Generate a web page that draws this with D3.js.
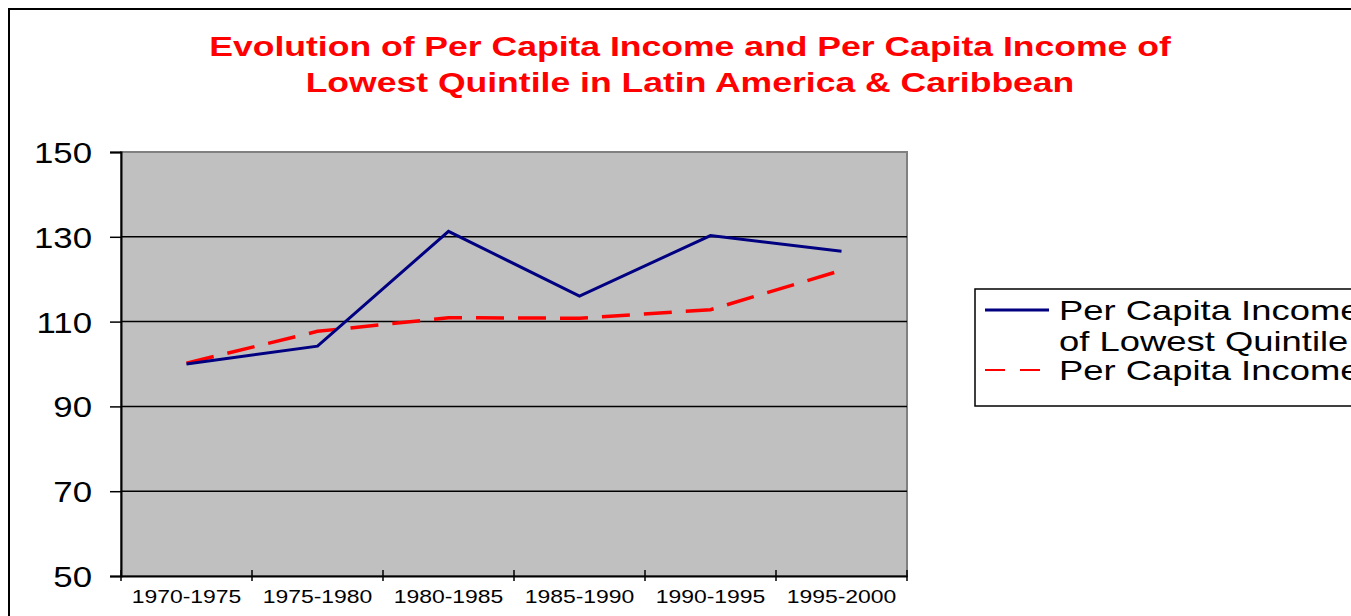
<!DOCTYPE html>
<html>
<head>
<meta charset="utf-8">
<script src="https://cdn.jsdelivr.net/npm/d3@7"></script>
<style>
  html, body { margin: 0; padding: 0; background: #fff; }
  svg { display: block; font-family: Arial, "Liberation Sans", sans-serif; }
</style>
</head>
<body>
<svg id="chart" width="1351" height="616"></svg>
<script>
const categories = ["1970-1975", "1975-1980", "1980-1985", "1985-1990", "1990-1995", "1995-2000"];
const lowestQuintile = [100.0, 104.2, 131.3, 116.0, 130.3, 126.6];
const perCapita = [100.2, 107.7, 110.9, 110.8, 112.8, 122.1];
const yTicks = [50, 70, 90, 110, 130, 150];
const titleLines = ["Evolution of Per Capita Income and Per Capita Income of", "Lowest Quintile in Latin America & Caribbean"];
const legendLabels = [["Per Capita Income", "of Lowest Quintile"], ["Per Capita Income"]];

const svg = d3.select("#chart");
const plot = { left: 121, right: 907, top: 152, bottom: 576 };

// widen text horizontally to mimic the reference's wide rendering
function stretch(sel, factor) {
  sel.each(function () {
    const w = this.getComputedTextLength();
    d3.select(this).attr("textLength", w * factor).attr("lengthAdjust", "spacingAndGlyphs");
  });
}

// outer chart border
svg.append("rect").attr("x", 9).attr("y", 9).attr("width", 1400).attr("height", 700)
  .attr("fill", "#fff").attr("stroke", "#000").attr("stroke-width", 2);

// title
const title = svg.append("g").selectAll("text").data(titleLines).join("text")
  .attr("x", 690).attr("y", (d, i) => 56 + i * 36)
  .attr("text-anchor", "middle").attr("fill", "#ff0000")
  .attr("font-weight", "bold").attr("font-size", 27).text(d => d);
stretch(title, 1.316);

const x = d3.scaleBand().domain(categories).range([plot.left, plot.right]);
const y = d3.scaleLinear().domain([50, 150]).range([plot.bottom, plot.top]);

// plot background
svg.append("rect").attr("x", plot.left).attr("y", plot.top)
  .attr("width", plot.right - plot.left).attr("height", plot.bottom - plot.top)
  .attr("fill", "#c0c0c0").attr("stroke", "#808080").attr("stroke-width", 2);

// gridlines
svg.append("g").selectAll("line").data(yTicks.filter(t => t > 50 && t < 150)).join("line")
  .attr("x1", plot.left).attr("x2", plot.right)
  .attr("y1", d => y(d)).attr("y2", d => y(d))
  .attr("stroke", "#000").attr("stroke-width", 1.5);

// y axis
const yAxis = svg.append("g").attr("transform", `translate(${plot.left},0)`)
  .call(d3.axisLeft(y).tickValues(yTicks).tickSize(11).tickPadding(18));
yAxis.select(".domain").attr("stroke", "#000").attr("stroke-width", 2);
yAxis.selectAll(".tick line").attr("stroke", "#000").attr("stroke-width", 1.5);
const yText = yAxis.selectAll(".tick text").attr("font-size", 29).attr("fill", "#000")
  .attr("font-family", "Arial, 'Liberation Sans', sans-serif").attr("dy", "0.36em");
stretch(yText, 1.2);

// x axis
const xAxis = svg.append("g").attr("transform", `translate(0,${plot.bottom})`)
  .call(d3.axisBottom(x).tickSize(0).tickPadding(14));
xAxis.select(".domain").attr("stroke", "#000").attr("stroke-width", 2);
const xText = xAxis.selectAll(".tick text").attr("font-size", 18.5).attr("fill", "#000")
  .attr("font-family", "Arial, 'Liberation Sans', sans-serif");
stretch(xText, 1.24);
// category boundary ticks
const bounds = categories.map(c => x(c)).concat([x(categories[categories.length - 1]) + x.bandwidth()]);
svg.append("g").selectAll("line").data(bounds).join("line")
  .attr("x1", d => d).attr("x2", d => d)
  .attr("y1", plot.bottom - 6).attr("y2", plot.bottom + 5)
  .attr("stroke", "#000").attr("stroke-width", 1.5);

const cx = c => x(c) + x.bandwidth() / 2;
const line = d3.line().x((d, i) => cx(categories[i])).y(d => y(d));

svg.append("path").datum(perCapita).attr("d", line)
  .attr("fill", "none").attr("stroke", "#ff0000").attr("stroke-width", 3.5)
  .attr("stroke-dasharray", "28,14");
svg.append("path").datum(lowestQuintile).attr("d", line)
  .attr("fill", "none").attr("stroke", "#000080").attr("stroke-width", 3);

// legend
const lg = svg.append("g");
lg.append("rect").attr("x", 975).attr("y", 289).attr("width", 420).attr("height", 117)
  .attr("fill", "#fff").attr("stroke", "#000").attr("stroke-width", 1.5);
lg.append("line").attr("x1", 985).attr("x2", 1049).attr("y1", 310).attr("y2", 310)
  .attr("stroke", "#000080").attr("stroke-width", 3);
lg.append("line").attr("x1", 985).attr("x2", 1049).attr("y1", 370).attr("y2", 370)
  .attr("stroke", "#ff0000").attr("stroke-width", 2).attr("stroke-dasharray", "20,15");
const legendRows = [
  { text: legendLabels[0][0], y: 320 },
  { text: legendLabels[0][1], y: 351 },
  { text: legendLabels[1][0], y: 380 }
];
const lgText = lg.selectAll("text").data(legendRows).join("text")
  .attr("x", 1059).attr("y", d => d.y).attr("font-size", 28).attr("fill", "#000")
  .text(d => d.text);
stretch(lgText, 1.3);
</script>
</body>
</html>
